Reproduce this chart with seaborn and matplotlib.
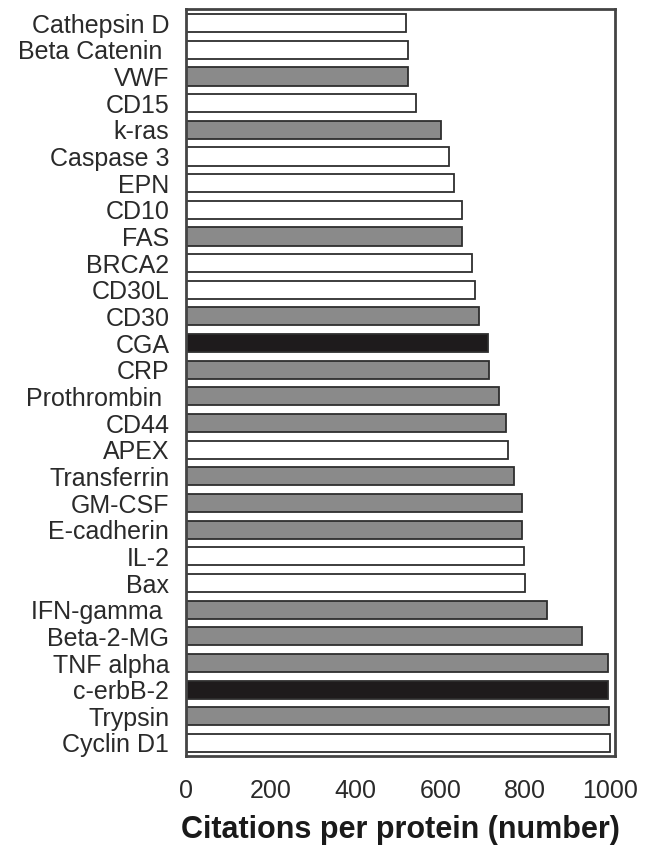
import matplotlib
matplotlib.use("Agg")
import matplotlib.pyplot as plt
import seaborn as sns
import pandas as pd

# proteins listed top to bottom, as in the figure
proteins = [
    "Cathepsin D", "Beta Catenin ", "VWF", "CD15", "k-ras", "Caspase 3",
    "EPN", "CD10", "FAS", "BRCA2", "CD30L", "CD30", "CGA", "CRP",
    "Prothrombin ", "CD44", "APEX", "Transferrin", "GM-CSF", "E-cadherin",
    "IL-2", "Bax", "IFN-gamma ", "Beta-2-MG", "TNF alpha", "c-erbB-2",
    "Trypsin", "Cyclin D1",
]
citations = [
    519, 524, 524, 543, 601, 621, 632, 651, 651, 675, 682, 692, 713, 715,
    738, 755, 759, 773, 792, 792, 798, 800, 851, 934, 995, 996, 998, 1000,
]
# bar shading group: w = white, g = grey, k = black
shade = [
    "w", "w", "g", "w", "g", "w", "w", "w", "g", "w", "w", "g", "k", "g",
    "g", "g", "w", "g", "g", "g", "w", "w", "g", "g", "g", "k", "g", "w",
]
x_ticks = [0, 200, 400, 600, 800, 1000]

shade_colors = {"w": "#ffffff", "g": "#8a8a8a", "k": "#1e1b1c"}

df = pd.DataFrame({"protein": proteins, "citations": citations, "shade": shade})
palette = {p: shade_colors[s] for p, s in zip(proteins, shade)}

sns.set_theme(style="white")
plt.rcParams["font.family"] = ["Liberation Sans", "DejaVu Sans"]

fig = plt.figure(figsize=(6.48, 8.46), dpi=100)
ax = fig.add_axes([0.287, 0.106, 0.662, 0.883])

sns.barplot(
    data=df, x="citations", y="protein", hue="protein", palette=palette,
    legend=False, orient="h", width=0.68, edgecolor="#2e2e2e",
    linewidth=1.3, saturation=1, ax=ax,
)

ax.set_xlim(0, 1012)
ax.set_ylim(len(proteins) - 0.5, -0.52)
ax.set_xticks(x_ticks)
ax.set_xticklabels([str(t) for t in x_ticks])
ax.tick_params(axis="both", length=0, labelsize=18, colors="#2a2a2a")
ax.tick_params(axis="x", pad=16)
ax.tick_params(axis="y", pad=12)
ax.set_ylabel("")
ax.set_xlabel("Citations per protein (number)", fontsize=22,
              fontweight="bold", color="#1a1a1a", labelpad=9)

for side in ["top", "bottom", "left", "right"]:
    ax.spines[side].set_visible(True)
    ax.spines[side].set_color("#444444")
    ax.spines[side].set_linewidth(2)

fig.savefig("out.png", dpi=100)
